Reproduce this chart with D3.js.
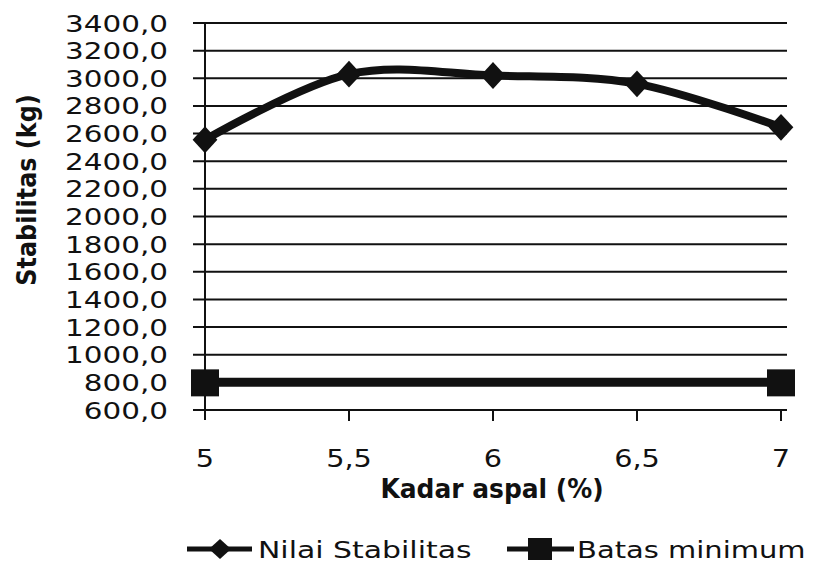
<!DOCTYPE html>
<html>
<head>
<meta charset="utf-8">
<script src="https://cdn.jsdelivr.net/npm/d3@7"></script>
<style>
  body { margin: 0; background: #fff; }
  text { font-family: "DejaVu Sans", sans-serif; fill: #111; }
</style>
</head>
<body>
<svg width="817" height="563"></svg>
<script>
const kadar = [5, 5.5, 6, 6.5, 7];
const stabilitas = [2555, 3030, 3020, 2960, 2645];
const batasX = [5, 7];
const batasMin = [800, 800];
const yTicks = d3.range(600, 3401, 200);
const xTicks = [5, 5.5, 6, 6.5, 7];

const svg = d3.select("svg");
const fmtY = d => d3.format(".1f")(d).replace(".", ",");
const fmtX = d => String(d).replace(".", ",");

const x = d3.scaleLinear().domain([5, 7]).range([205, 781]);
const y = d3.scaleLinear().domain([600, 3400]).range([410, 23]);

// gridlines
svg.append("g").selectAll("line")
    .data(yTicks)
    .enter().append("line")
    .attr("x1", 193).attr("x2", 787)
    .attr("y1", d => y(d)).attr("y2", d => y(d))
    .attr("stroke", "#111").attr("stroke-width", 2);

// y axis line
svg.append("line")
    .attr("x1", 205).attr("x2", 205).attr("y1", 23).attr("y2", 420)
    .attr("stroke", "#111").attr("stroke-width", 2);

// x ticks
svg.append("g").selectAll("line")
    .data(xTicks.slice(1))
    .enter().append("line")
    .attr("x1", d => x(d)).attr("x2", d => x(d))
    .attr("y1", 410).attr("y2", 421)
    .attr("stroke", "#111").attr("stroke-width", 2);

// y tick labels (scan is stretched sideways, so scale x)
svg.append("g").selectAll("text")
    .data(yTicks)
    .enter().append("text")
    .attr("transform", d => `translate(168,${y(d) + 8.5}) scale(1.28,1)`)
    .attr("text-anchor", "end")
    .attr("font-size", 23)
    .text(fmtY);

// x tick labels
svg.append("g").selectAll("text")
    .data(xTicks)
    .enter().append("text")
    .attr("transform", d => `translate(${x(d)},467) scale(1.15,1)`)
    .attr("text-anchor", "middle")
    .attr("font-size", 25)
    .text(fmtX);

// axis titles
svg.append("text")
    .attr("transform", "translate(492,498) scale(0.96,1)")
    .attr("text-anchor", "middle")
    .attr("font-size", 26).attr("font-weight", "bold")
    .text("Kadar aspal (%)");

svg.append("text")
    .attr("transform", "translate(36,190) rotate(-90) scale(0.92,1)")
    .attr("text-anchor", "middle")
    .attr("font-size", 26).attr("font-weight", "bold")
    .text("Stabilitas (kg)");

// series: Nilai Stabilitas (smoothed)
const line = d3.line()
    .x((d, i) => x(kadar[i]))
    .y(d => y(d))
    .curve(d3.curveCardinal.tension(0));

svg.append("path")
    .datum(stabilitas)
    .attr("d", line)
    .attr("fill", "none").attr("stroke", "#111").attr("stroke-width", 8);

const diamond = d3.symbol().type(d3.symbolSquare).size(340);
svg.append("g").selectAll("path")
    .data(stabilitas)
    .enter().append("path")
    .attr("d", diamond)
    .attr("transform", (d, i) => `translate(${x(kadar[i])},${y(d)}) scale(0.95,1.03) rotate(45)`)
    .attr("fill", "#111");

// series: Batas minimum
const line2 = d3.line()
    .x((d, i) => x(batasX[i]))
    .y(d => y(d));

svg.append("path")
    .datum(batasMin)
    .attr("d", line2)
    .attr("fill", "none").attr("stroke", "#111").attr("stroke-width", 9);

svg.append("g").selectAll("rect")
    .data(batasMin)
    .enter().append("rect")
    .attr("x", (d, i) => x(batasX[i]) - 14)
    .attr("y", d => y(d) - 13)
    .attr("width", 28).attr("height", 27)
    .attr("fill", "#111");

// legend
const ly = 549;
const lg = svg.append("g");
lg.append("line").attr("x1", 187).attr("x2", 252).attr("y1", ly).attr("y2", ly)
    .attr("stroke", "#111").attr("stroke-width", 5);
lg.append("path").attr("d", d3.symbol().type(d3.symbolSquare).size(200))
    .attr("transform", `translate(220,${ly}) scale(1.1,1) rotate(45)`).attr("fill", "#111");
lg.append("text")
    .attr("transform", `translate(258,${ly + 8.5}) scale(1.3,1)`)
    .attr("font-size", 23)
    .text("Nilai Stabilitas");

lg.append("line").attr("x1", 507).attr("x2", 574).attr("y1", ly).attr("y2", ly)
    .attr("stroke", "#111").attr("stroke-width", 5);
lg.append("rect").attr("x", 528).attr("y", ly - 11).attr("width", 24).attr("height", 22)
    .attr("fill", "#111");
lg.append("text")
    .attr("transform", `translate(577,${ly + 8.5}) scale(1.26,1)`)
    .attr("font-size", 23)
    .text("Batas minimum");
</script>
</body>
</html>
